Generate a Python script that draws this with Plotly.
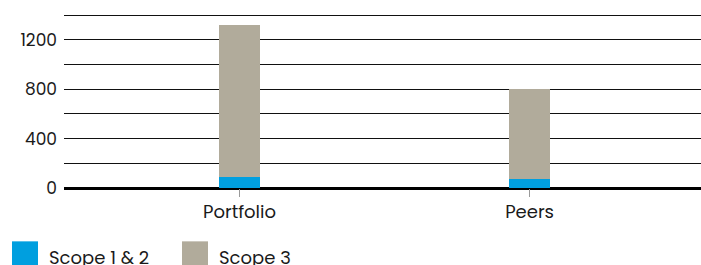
import plotly.graph_objects as go

categories = ["Portfolio", "Peers"]
scope12 = [90, 75]
scope3 = [1230, 725]
series_names = ["Scope 1 & 2", "Scope 3"]
colors = ["#009FDF", "#B1AB9B"]
tick_vals = [0, 200, 400, 600, 800, 1000, 1200, 1400]
tick_text = ["0", "", "400", "", "800", "", "1200", ""]

W, H = 701, 265
ML, MR, MT, MB = 64, 0, 14, 76.5
PW, PH = W - ML - MR, H - MT - MB
FONT = "Poppins, Open Sans, sans-serif"

def px_x(px):
    return (px - ML) / PW

def px_y(py):
    return (H - MB - py) / PH

fig = go.Figure()
for name, vals, c in zip(series_names, [scope12, scope3], colors):
    fig.add_trace(go.Bar(x=categories, y=vals, name=name, marker=dict(color=c, line=dict(width=0)),
                         width=0.14, showlegend=False))

shapes = []
annotations = []
legend_items = [(12, 48), (182, 218)]
for (sx, tx), name, c in zip(legend_items, series_names, colors):
    shapes.append(dict(type="rect", xref="paper", yref="paper",
                       x0=px_x(sx), x1=px_x(sx + 26), y0=px_y(242), y1=px_y(268),
                       fillcolor=c, line=dict(width=0), layer="above"))
    annotations.append(dict(xref="paper", yref="paper", x=px_x(tx) - 0.002, y=px_y(258),
                            xanchor="left", yanchor="middle", text=name, showarrow=False,
                            font=dict(family=FONT, size=18, color="#1a1a1a")))

fig.update_layout(
    width=W, height=H, barmode="stack",
    margin=dict(l=ML, r=MR, t=MT, b=MB),
    paper_bgcolor="white", plot_bgcolor="white",
    font=dict(family=FONT, size=17, color="#1a1a1a"),
    shapes=shapes, annotations=annotations,
    xaxis=dict(range=[-0.605, 1.591], showgrid=False, showline=False,
               ticks="outside", ticklen=8, tickcolor="#999999", tickwidth=1,
               ticklabelstandoff=-1,
               tickfont=dict(size=18, family=FONT, color="#1a1a1a")),
    yaxis=dict(range=[0, 1410], tickvals=tick_vals, ticktext=tick_text,
               showgrid=True, gridcolor="#111111", gridwidth=1,
               zeroline=True, zerolinecolor="#000000", zerolinewidth=3,
               showline=False, ticks="", ticklabelstandoff=6,
               tickfont=dict(size=17, family=FONT, color="#1a1a1a")),
)

fig.write_html("out.html", config={"displayModeBar": False},
               post_script="document.body.style.margin='0';document.body.style.overflow='hidden';")
